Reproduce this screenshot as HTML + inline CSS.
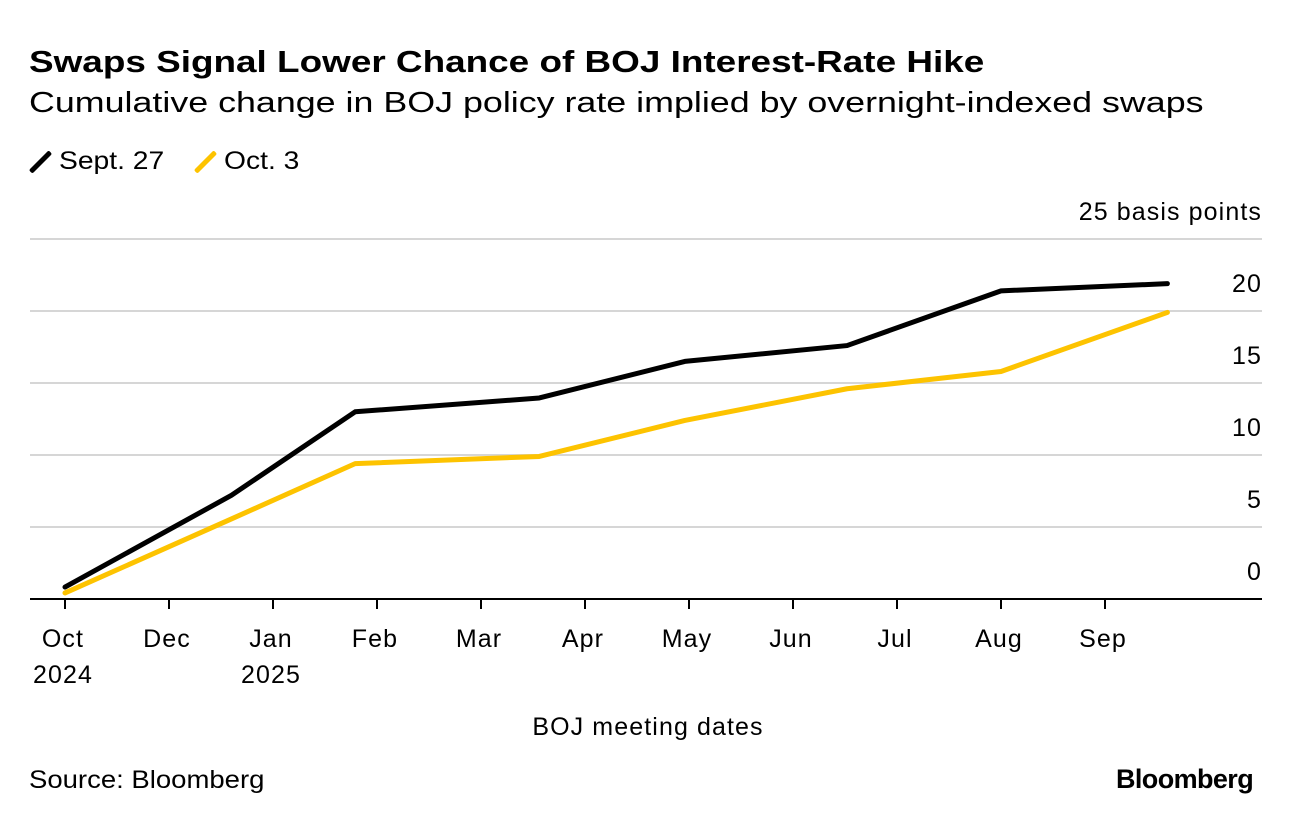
<!DOCTYPE html>
<html><head><meta charset="utf-8"><style>
body{margin:0;background:#fff;width:1296px;height:824px;overflow:hidden;font-family:"Liberation Sans",Arial,sans-serif;color:#000}
#title{position:absolute;left:29px;top:44px;font-size:31px;font-weight:bold;transform:scaleX(1.19);transform-origin:left;white-space:nowrap}
#sub{position:absolute;left:29px;top:87px;font-size:29px;transform:scaleX(1.235);transform-origin:left;white-space:nowrap}
.leg{position:absolute;top:147px;font-size:25px;display:flex;align-items:center}
.legt{display:inline-block;transform:scaleX(1.13);transform-origin:left}
.sw{display:inline-block;width:5px;height:28px;transform:rotate(45deg);border-radius:2px;margin-right:16px}
#src{position:absolute;left:29px;top:766px;font-size:25px;transform:scaleX(1.1);transform-origin:left;white-space:nowrap}
#logo{position:absolute;left:1116px;top:764px;font-size:27px;font-weight:bold;letter-spacing:-0.6px}
svg{position:absolute;left:0;top:0}
</style></head><body>
<div id="title">Swaps Signal Lower Chance of BOJ Interest-Rate Hike</div>
<div id="sub">Cumulative change in BOJ policy rate implied by overnight-indexed swaps</div>
<div class="leg" style="left:38px"><span class="sw" style="background:#000"></span><span class="legt">Sept. 27</span></div>
<div class="leg" style="left:203px"><span class="sw" style="background:#fdc300"></span><span class="legt">Oct. 3</span></div>
<svg id="chart" width="1296" height="824"></svg>
<div id="src">Source: Bloomberg</div>
<div id="logo">Bloomberg</div>
<script>
const monthLabels=["Oct","Dec","Jan","Feb","Mar","Apr","May","Jun","Jul","Aug","Sep"];
const yearLabels=["2024","","2025","","","","","","","",""];
const yTicks=[0,5,10,15,20,25];
const meetingPos=[0,1.6,2.79,4.56,5.96,7.52,9.0,10.6];
const sept27=[0.83,7.2,13.0,13.96,16.5,17.6,21.4,21.9];
const oct3=[0.42,5.56,9.4,9.9,12.4,14.6,15.8,19.9];
const svg=document.getElementById('chart');const NS="http://www.w3.org/2000/svg";
const X=v=>65+104*v, Y=v=>599-14.4*v;
const F={'font-size':25,'font-family':'Liberation Sans, sans-serif','letter-spacing':1.1};
function mk(t,a,txt){const e=document.createElementNS(NS,t);for(const k in a)e.setAttribute(k,a[k]);if(txt!=null)e.textContent=txt;svg.appendChild(e);return e;}
yTicks.forEach(v=>{
 const l=mk('line',{x1:30,x2:1262,y1:Y(v),y2:Y(v),stroke:v===0?'#000':'#d6d6d6','stroke-width':2});
 
 
 const t=mk('text',Object.assign({x:1262,y:Y(v)-19,'text-anchor':'end'},F),v===25?'25 basis points':String(v));
 
 
});
monthLabels.forEach((m,i)=>{
 const tk=mk('line',{x1:X(i),x2:X(i),y1:599,y2:609,stroke:'#000','stroke-width':2});
 
 
 const t=mk('text',Object.assign({x:X(i)-2,y:647,'text-anchor':'middle'},F),m);
 
 
 if(yearLabels[i]){const y=mk('text',Object.assign({x:X(i)-2,y:683,'text-anchor':'middle'},F),yearLabels[i]);
 
 }
});
const xt=mk('text',Object.assign({x:648,y:735,'text-anchor':'middle'},F),'BOJ meeting dates');


[[oct3,'#fdc300','series-oct-3'],[sept27,'#000','series-sept-27']].forEach(([d,c,n])=>{
 const p=mk('polyline',{points:d.map((v,i)=>X(meetingPos[i])+','+Y(v)).join(' '),fill:'none',stroke:c,'stroke-width':5,'stroke-linecap':'round','stroke-linejoin':'round'});
 
 
});
</script>
</body></html>
